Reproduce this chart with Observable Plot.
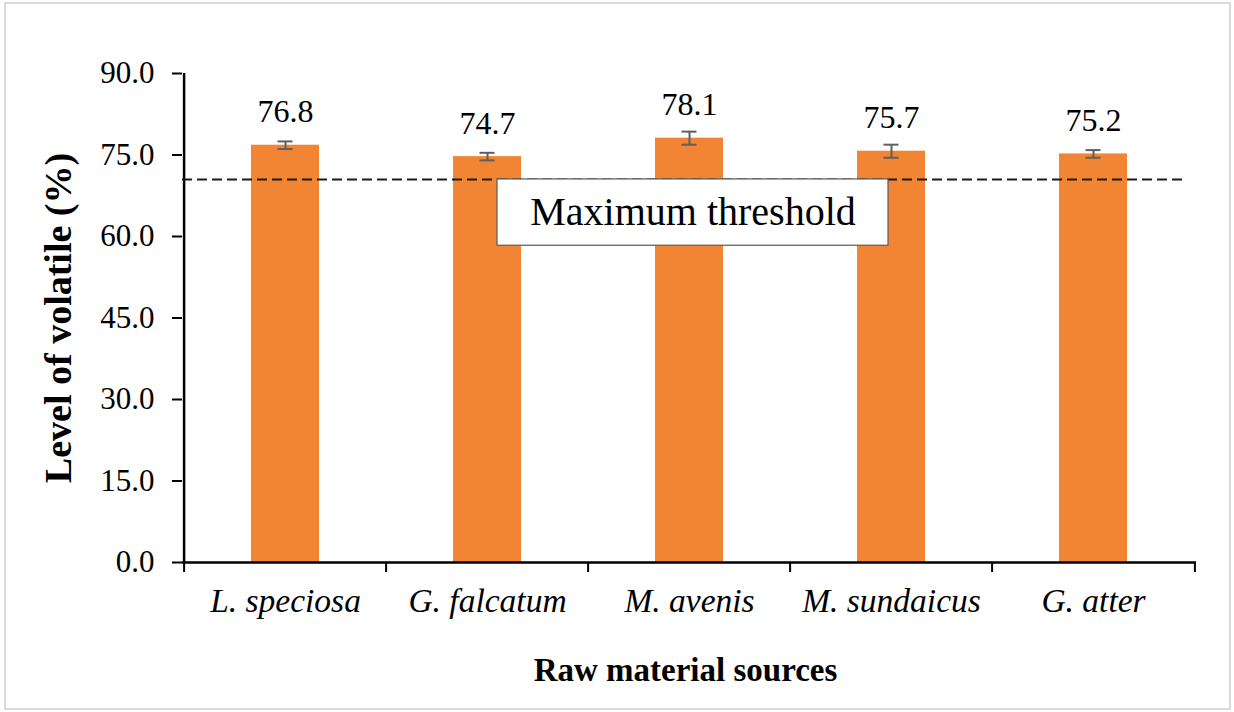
<!DOCTYPE html>
<html>
<head>
<meta charset="utf-8">
<script src="https://cdn.jsdelivr.net/npm/d3@7"></script>
<script src="https://cdn.jsdelivr.net/npm/@observablehq/plot@0.6"></script>
<style>
  html, body { margin: 0; padding: 0; background: #fff; }
  #wrap { position: relative; width: 1234px; height: 712px; }
  #wrap svg, #wrap svg text { font-family: 'Liberation Serif', 'Times New Roman', serif !important; }
  #border { position: absolute; left: 4px; top: 2px; width: 1227px; height: 708px;
            border: 2px solid #d9d9d9; box-sizing: border-box; pointer-events: none; }
</style>
</head>
<body>
<div id="wrap"><div id="border"></div></div>
<script>
const categories = ["L. speciosa", "G. falcatum", "M. avenis", "M. sundaicus", "G. atter"];
const values = [76.8, 74.7, 78.1, 75.7, 75.2];
const errors = [0.7, 0.7, 1.2, 1.2, 0.7];
const yTicks = [0, 15, 30, 45, 60, 75, 90];
const threshold = 70.5;
const thresholdLabel = "Maximum threshold";
const xTitle = "Raw material sources";
const yTitle = "Level of volatile (%)";

const data = categories.map((c, i) => ({cat: c, value: values[i], err: errors[i]}));

const W = 1234, H = 712;
const mL = 182, mR = 38, mT = 73, mB = 150;
const step = (W - mL - mR) / categories.length;
const font = "Liberation Serif";
const boxBottom = 58.3;

const chart = Plot.plot({
  width: W, height: H,
  marginLeft: mL, marginRight: mR, marginTop: mT, marginBottom: mB,
  style: {fontFamily: font, fontSize: "31px", color: "#000", background: "transparent"},
  x: {domain: categories, paddingInner: 0.665, paddingOuter: 0.3325, axis: null},
  y: {domain: [0, 90], axis: null},
  marks: [
    Plot.axisY({ticks: yTicks, tickFormat: d => d.toFixed(1), tickSize: 10, tickPadding: 18,
                label: null, fontSize: 31, fontFamily: font, stroke: "#000", strokeWidth: 2}),
    Plot.barY(data, {x: "cat", y: "value", fill: "#f28533"}),
    // axis lines
    Plot.ruleY([0], {stroke: "#000", strokeWidth: 2.5}),
    Plot.ruleX([categories[0]], {x: d => d, y1: 0, y2: 90, dx: -step / 2, stroke: "#000", strokeWidth: 2.5}),
    // x ticks at band boundaries
    Plot.ruleX(categories, {x: d => d, y1: 0, y2: 0, dx: -step / 2, insetBottom: -10, stroke: "#000", strokeWidth: 2}),
    Plot.ruleX([categories[categories.length - 1]], {x: d => d, y1: 0, y2: 0, dx: step / 2, insetBottom: -10, stroke: "#000", strokeWidth: 2}),
    // error bars
    Plot.ruleX(data, {x: "cat", y1: d => d.value - d.err, y2: d => d.value + d.err, stroke: "#5f5f5f", strokeWidth: 2}),
    Plot.tickY(data, {x: "cat", y: d => d.value - d.err, insetLeft: 26.5, insetRight: 26.5, stroke: "#5f5f5f", strokeWidth: 2}),
    Plot.tickY(data, {x: "cat", y: d => d.value + d.err, insetLeft: 26.5, insetRight: 26.5, stroke: "#5f5f5f", strokeWidth: 2}),
    // value labels
    Plot.text(data, {x: "cat", y: "value", text: d => d.value.toFixed(1), lineAnchor: "bottom", dy: -23,
                     fontSize: 32, fontFamily: font, fill: "#000"}),
    // threshold line
    Plot.ruleY([threshold], {stroke: "#1a1a1a", strokeWidth: 2, strokeDasharray: "10,5", insetRight: 9}),
    // threshold label box
    Plot.barY([{cat: categories[2], y1: boxBottom, y2: threshold}],
              {x: "cat", y1: "y1", y2: "y2", fill: "#fff", stroke: "#595959", strokeWidth: 1.2,
               insetLeft: -158, insetRight: -165}),
    Plot.text([{cat: categories[2], y: (boxBottom + threshold) / 2}],
              {x: "cat", y: "y", text: () => thresholdLabel, dx: 3.5, lineAnchor: "middle", fontSize: 40,
               fontFamily: font, fill: "#000"}),
    // x tick labels
    Plot.text(categories, {x: d => d, y: 0, text: d => d, dy: 39, lineAnchor: "middle",
                           fontSize: 33.5, fontStyle: "italic", fontFamily: font, fill: "#000"}),
    // axis titles
    Plot.text([xTitle], {frameAnchor: "bottom", text: d => d, dx: -4, dy: 108, lineAnchor: "middle",
                         textAnchor: "middle", fontSize: 33, fontWeight: "bold", fontFamily: font, fill: "#000"}),
    Plot.text([yTitle], {frameAnchor: "left", text: d => d, rotate: -90, dx: -124, lineAnchor: "middle",
                         textAnchor: "middle", fontSize: 38, fontWeight: "bold", fontFamily: font, fill: "#000"})
  ]
});
document.getElementById("wrap").prepend(chart);
</script>
</body>
</html>
